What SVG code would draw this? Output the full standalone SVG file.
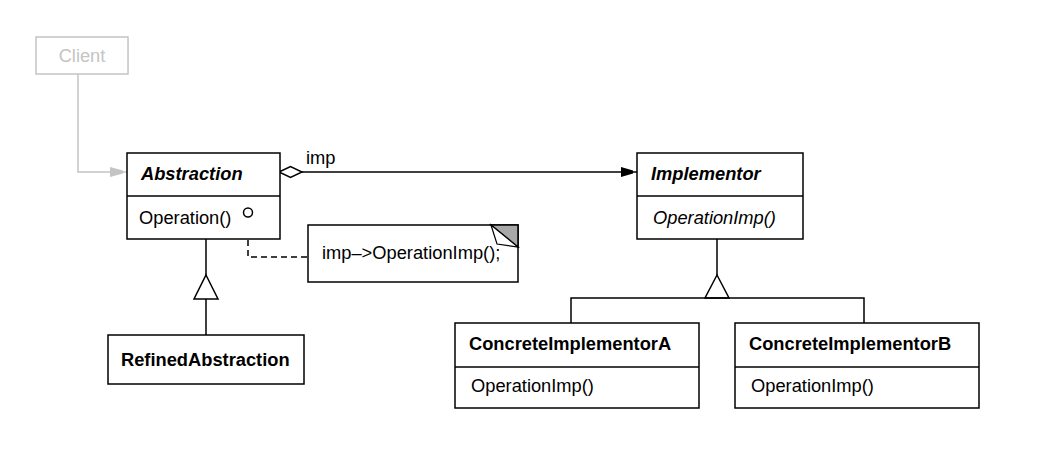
<svg xmlns="http://www.w3.org/2000/svg" width="1044" height="452" viewBox="0 0 1044 452">
<style>
  .box{fill:#fff;stroke:#000;stroke-width:1.5}
  .t{font-family:"Liberation Sans",Arial,sans-serif;font-size:18.3px;fill:#000}
  .b{font-weight:bold}
  .i{font-style:italic}
  .ln{fill:none;stroke:#000;stroke-width:1.5}
  .dash{fill:none;stroke:#000;stroke-width:1.5;stroke-dasharray:6 4}
  .gray{fill:none;stroke:#c4c4c4;stroke-width:1.5}
</style>
<rect width="1044" height="452" fill="#fff"/>
<g id="connectors">
  <polyline class="gray" points="78,74 78,172 127,172"/>
  <polygon points="110,167 123,170.5 123,173.5 110,177" fill="#c4c4c4"/>
  <line class="ln" x1="302" y1="172" x2="637" y2="172"/>
  <polygon points="279,172 290.5,166.5 302,172 290.5,177.5" fill="#fff" stroke="#000" stroke-width="1.5"/>
  <polygon points="621,167 633,170.5 633,173.5 621,177" fill="#000"/>
  <text class="t" x="306" y="164">imp</text>
  <line class="ln" x1="248" y1="217" x2="248" y2="226"/>
  <polyline class="dash" points="248,230 248,257 308,257"/>
  <line class="ln" x1="206" y1="239" x2="206" y2="275"/>
  <polygon points="206,275 218,299 194,299" fill="#fff" stroke="#000" stroke-width="1.5"/>
  <line class="ln" x1="206" y1="299" x2="206" y2="335"/>
  <line class="ln" x1="717" y1="239" x2="717" y2="275"/>
  <polygon points="717,275 729,298 705,298" fill="#fff" stroke="#000" stroke-width="1.5"/>
  <polyline class="ln" points="571,323 571,298 864,298 864,323"/>
</g>
<g id="client">
  <rect x="36" y="37" width="92" height="37" fill="#fff" stroke="#c4c4c4" stroke-width="1.5"/>
  <text class="t" x="82" y="62" text-anchor="middle" style="fill:#c4c4c4">Client</text>
</g>
<g id="abstraction">
  <rect class="box" x="127" y="153" width="153" height="86"/>
  <line class="ln" x1="127" y1="196" x2="280" y2="196"/>
  <text class="t b i" x="141" y="180">Abstraction</text>
  <text class="t" x="139" y="224">Operation()</text>
  <circle cx="248" cy="212.5" r="4.5" fill="#fff" stroke="#000" stroke-width="1.5"/>
</g>
<g id="note">
  <rect class="box" x="308" y="225" width="210" height="57"/>
  <polygon points="491,225 518,225 518,247" fill="#a8a8a8" stroke="#000" stroke-width="1.5"/>
  <polygon points="491,225 497,244 518,247" fill="#fff" stroke="#000" stroke-width="1.2"/>
  <text class="t" x="322" y="259">imp–&gt;OperationImp();</text>
</g>
<g id="implementor">
  <rect class="box" x="637" y="153" width="166" height="86"/>
  <line class="ln" x1="637" y1="196" x2="803" y2="196"/>
  <text class="t b i" x="651" y="180">Implementor</text>
  <text class="t i" x="653" y="224">OperationImp()</text>
</g>
<g id="refinedAbstraction">
  <rect class="box" x="108" y="335" width="196" height="49"/>
  <text class="t b" x="121" y="366">RefinedAbstraction</text>
</g>
<g id="concreteImplementorA">
  <rect class="box" x="455" y="323" width="244" height="85"/>
  <line class="ln" x1="455" y1="367" x2="699" y2="367"/>
  <text class="t b" x="469" y="350">ConcreteImplementorA</text>
  <text class="t" x="471" y="392">OperationImp()</text>
</g>
<g id="concreteImplementorB">
  <rect class="box" x="735" y="323" width="244" height="85"/>
  <line class="ln" x1="735" y1="367" x2="979" y2="367"/>
  <text class="t b" x="749" y="350">ConcreteImplementorB</text>
  <text class="t" x="751" y="392">OperationImp()</text>
</g>
</svg>
